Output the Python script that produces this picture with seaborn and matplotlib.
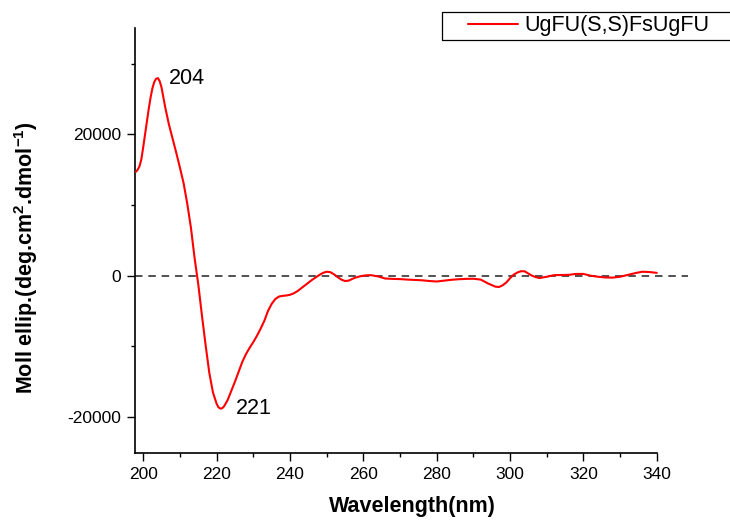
import numpy as np
import pandas as pd
import matplotlib
matplotlib.use("Agg")
import matplotlib.pyplot as plt
from matplotlib.patches import Rectangle
from matplotlib.ticker import MultipleLocator
import seaborn as sns

# CD spectrum of UgFU(S,S)FsUgFU: wavelength (nm) vs molar ellipticity
wavelength = [198, 198.5, 199, 199.5, 200, 200.5, 201, 201.5, 202, 202.5, 203,
              203.5, 204, 204.5, 205, 205.5, 206, 207, 208, 209, 210,
              211, 212, 213, 214, 215, 216, 217, 218, 219, 220, 220.5, 221,
              221.5, 222, 223,
              224, 225, 226, 227, 228, 229, 230, 231, 232, 233, 234, 235, 236,
              237, 238, 239, 240, 241, 242, 243, 244, 245, 246, 247, 248, 249,
              250, 251, 252, 253, 254, 255, 256, 257, 258, 259, 260, 261, 262,
              264, 266, 268, 270, 272, 274, 276, 278, 280, 282, 284, 286, 288,
              290, 292, 294, 296, 297, 298, 299, 300, 301, 302, 303, 304, 305,
              306, 307, 308, 310, 312, 314, 316, 318, 320, 322, 324, 326, 328,
              330, 332, 334, 336, 338, 340]
ellipticity = [14700, 15000, 15500, 16500, 18200, 20000, 21800, 23600, 25200,
               26500, 27400, 27850, 27950, 27500, 26600, 25200, 23800,
               21400, 19400, 17400, 15300, 13100, 10200, 6800, 2500, -1200,
               -5600, -9800, -13700, -16500, -18100, -18600, -18800,
               -18750, -18500, -17600,
               -16300, -15000, -13600, -12200, -11100, -10200, -9400, -8500,
               -7500, -6400, -5000, -4000, -3300, -2950, -2850, -2800, -2700,
               -2500, -2200, -1800, -1400, -1000, -600, -250, 100, 400, 560,
               500, 200, -200, -550, -750, -700, -450, -250, -100, 0, 60, 80,
               -100, -400, -450, -480, -550, -600, -650, -750, -820, -700,
               -580, -500, -450, -430, -550, -1100, -1550, -1600, -1350, -950,
               -350, 150, 450, 640, 620, 300, 0, -200, -330, -150, 80, 100,
               120, 250, 250, 0, -150, -250, -270, -150, 100, 350, 560, 520,
               400]
series_name = "UgFU(S,S)FsUgFU"
peak_labels = [204, 221]

x_ticks = [200, 220, 240, 260, 280, 300, 320, 340]
y_ticks = [-20000, 0, 20000]

df = pd.DataFrame({"Wavelength": wavelength, "Ellipticity": ellipticity})

sns.set_theme(style="ticks")
plt.rcParams["font.family"] = ["Liberation Sans", "DejaVu Sans"]
plt.rcParams["mathtext.fontset"] = "custom"
plt.rcParams["mathtext.bf"] = "Liberation Sans:bold"
plt.rcParams["mathtext.rm"] = "Liberation Sans:bold"
plt.rcParams["axes.unicode_minus"] = False
for key in ("text.color", "axes.labelcolor", "xtick.color", "ytick.color",
            "xtick.labelcolor", "ytick.labelcolor"):
    plt.rcParams[key] = "black"

fig = plt.figure(figsize=(7.30, 5.23), dpi=100)
ax = fig.add_axes([0.1849, 0.1338, 0.7575, 0.8126])

ax.axhline(0, color="#333333", lw=1.2, ls=(0, (4.5, 3.5)), zorder=1)
sns.lineplot(data=df, x="Wavelength", y="Ellipticity", ax=ax, color="#ff0000",
             lw=1.5, legend=False, zorder=3, estimator=None,
             solid_joinstyle="round", solid_capstyle="round")

ax.set_xlim(197.75, 348.5)
ax.set_ylim(-25080, 35030)
ax.set_xticks(x_ticks)
ax.set_yticks(y_ticks)
ax.xaxis.set_minor_locator(MultipleLocator(10))
ax.yaxis.set_minor_locator(MultipleLocator(10000))
ax.tick_params(which="major", length=5.5, width=1.0, labelsize=12.5, pad=4.5,
               color="black", labelcolor="black")
ax.tick_params(which="minor", length=3, width=1.0, color="black")

sns.despine(ax=ax)
ax.spines["bottom"].set_bounds(197.75, 340)
for s in ("left", "bottom"):
    ax.spines[s].set_linewidth(1.2)
    ax.spines[s].set_color("black")

ax.set_xlabel("Wavelength(nm)", fontsize=15.5, fontweight="bold")
ax.set_ylabel(r"Moll ellip.(deg.cm$\mathbf{^2}$.dmol$\mathbf{^{-1}}$)",
              fontsize=15.5, fontweight="bold")
ax.xaxis.set_label_coords(0.501, -0.1)
ax.yaxis.set_label_coords(-0.172, 0.461)

# annotate the band positions at their extrema
for wl in peak_labels:
    val = df.loc[df["Wavelength"] == wl, "Ellipticity"].iloc[0]
    dx = 8 if val > 0 else 11
    ax.annotate(str(wl), xy=(wl, val), xytext=(dx, 0), textcoords="offset points",
                fontsize=15.5, va="center", ha="left", color="black")

# legend: line sample and name inside a plain frame at the top right
handle = plt.Line2D([], [], color="#ff0000", lw=1.5)
fig.legend([handle], [series_name], loc="center left",
           bbox_to_anchor=(468 / 730, 1 - 26 / 523), frameon=False,
           fontsize=15.5, handlelength=2.3, handletextpad=0.3,
           borderpad=0.0, borderaxespad=0.0)
fig.patches.append(Rectangle((442 / 730, 1 - 40 / 523), 300 / 730, 28 / 523,
                             transform=fig.transFigure, fill=False,
                             edgecolor="black", lw=0.9))

fig.savefig("out.png", dpi=100)
